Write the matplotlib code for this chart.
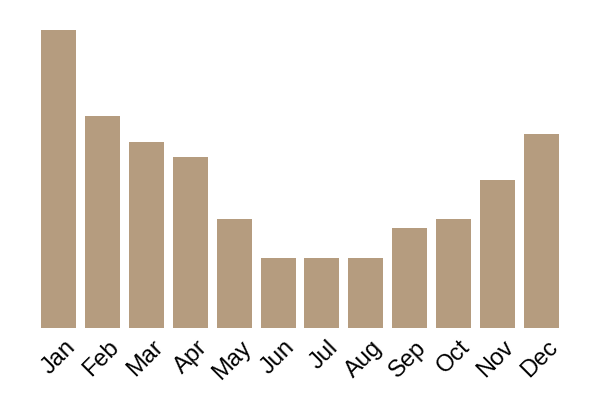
import matplotlib
matplotlib.use("Agg")
import matplotlib.pyplot as plt
import matplotlib.transforms as mtransforms

months = ["Jan", "Feb", "Mar", "Apr", "May", "Jun",
          "Jul", "Aug", "Sep", "Oct", "Nov", "Dec"]
values = [298, 212, 186, 171, 109, 70, 70, 70, 100, 109, 148, 194]

fig = plt.figure(figsize=(6, 4), dpi=100)
ax = fig.add_axes([37/600, 1 - 328/400, 526/600, 298/400])

x = range(len(months))
ax.bar(x, values, width=0.8, color="#b59c7f")
ax.set_xlim(-0.5, len(months) - 0.5)
ax.set_ylim(0, max(values))

for s in ax.spines.values():
    s.set_visible(False)
ax.set_yticks([])
ax.set_xticks(list(x))
ax.set_xticklabels(months, rotation=45, ha="right", rotation_mode="anchor",
                   fontsize=17, family="Liberation Sans")
ax.tick_params(axis="x", length=0, pad=6)

# nudge labels so they sit like the original
off = mtransforms.ScaledTranslation(4/72, 0, fig.dpi_scale_trans)
for lbl in ax.get_xticklabels():
    lbl.set_transform(lbl.get_transform() + off)

fig.savefig("out.png", dpi=100)
